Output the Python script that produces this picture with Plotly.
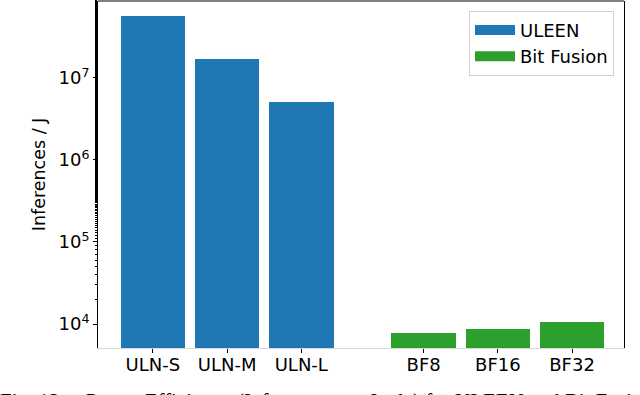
import plotly.graph_objects as go

# ----- Data -----
uleen_labels = ["ULN-S", "ULN-M", "ULN-L"]
uleen_values = [5.7e7, 1.7e7, 5.1e6]
bf_labels = ["BF8", "BF16", "BF32"]
bf_values = [7.7e3, 8.7e3, 1.07e4]

uleen_x = [0, 1, 2]
bf_x = [3.65, 4.65, 5.65]

BLUE = "#1f77b4"
GREEN = "#2ca02c"
FONT = "DejaVu Sans, sans-serif"

# ----- Figure -----
fig = go.Figure()
fig.add_trace(go.Bar(x=uleen_x, y=uleen_values, width=0.87, marker_color=BLUE,
                     marker_line_width=0, showlegend=False))
fig.add_trace(go.Bar(x=bf_x, y=bf_values, width=0.87, marker_color=GREEN,
                     marker_line_width=0, showlegend=False))

# legend entries drawn as thick lines so the swatch is wide like matplotlib
fig.add_trace(go.Scatter(x=[None], y=[None], mode="lines", name="ULEEN",
                         line=dict(color=BLUE, width=13)))
fig.add_trace(go.Scatter(x=[None], y=[None], mode="lines", name="Bit Fusion",
                         line=dict(color=GREEN, width=13)))

fig.update_layout(
    width=640, height=395,
    margin=dict(l=98, r=16, t=1, b=46.5, autoexpand=False),
    paper_bgcolor="white", plot_bgcolor="white",
    font=dict(family=FONT, size=18, color="black"),
    bargap=0,
    legend=dict(
        x=0.981, y=0.972, xanchor="right", yanchor="top",
        bgcolor="white", bordercolor="#d0d0d0", borderwidth=1,
        font=dict(size=18), itemwidth=40, tracegroupgap=2,
    ),
)

fig.update_xaxes(
    range=[-0.74, 6.35], automargin=False,
    tickvals=uleen_x + bf_x, ticktext=uleen_labels + bf_labels,
    showgrid=False, zeroline=False,
    showline=True, linecolor="#d9d9d9", linewidth=1,
    ticks="outside", ticklen=4, tickcolor="black",
    tickfont=dict(size=18), ticklabelstandoff=-4,
)

y_ticks = [1e4, 1e5, 1e6, 1e7]
y_ticktext = ["10<sup>4</sup>", "10<sup>5</sup>", "10<sup>6</sup>", "10<sup>7</sup>"]
fig.update_yaxes(
    type="log", range=[3.708, 7.937], automargin=False,
    tickvals=y_ticks, ticktext=y_ticktext,
    showgrid=False, zeroline=False,
    showline=True, linecolor="black", linewidth=1, mirror=True,
    ticks="outside", ticklen=4, tickcolor="black",
    minor=dict(ticks="outside", ticklen=2, tickcolor="black", showgrid=False),
    tickfont=dict(size=18),
    title=dict(text="Inferences / J", font=dict(size=17.5), standoff=8),
)

# top frame line
fig.add_shape(type="line", xref="paper", yref="paper", x0=0, x1=1, y0=1, y1=1,
              line=dict(color="black", width=1))

# figure caption, cut by the bottom edge as in the source image
fig.add_annotation(
    text="Fig. 12.    Power Efficiency (Inferences per Joule) for ULEEN and Bit Fusion",
    xref="paper", yref="paper", x=-0.19, y=-0.113, xanchor="left", yanchor="top",
    showarrow=False, font=dict(family="Liberation Serif, serif", size=21, color="black"),
)

# drop the page's default body margin so the figure sits at the window's corner
fig.write_html("out.html", config={"displayModeBar": False},
               post_script="document.body.style.margin='0';")
